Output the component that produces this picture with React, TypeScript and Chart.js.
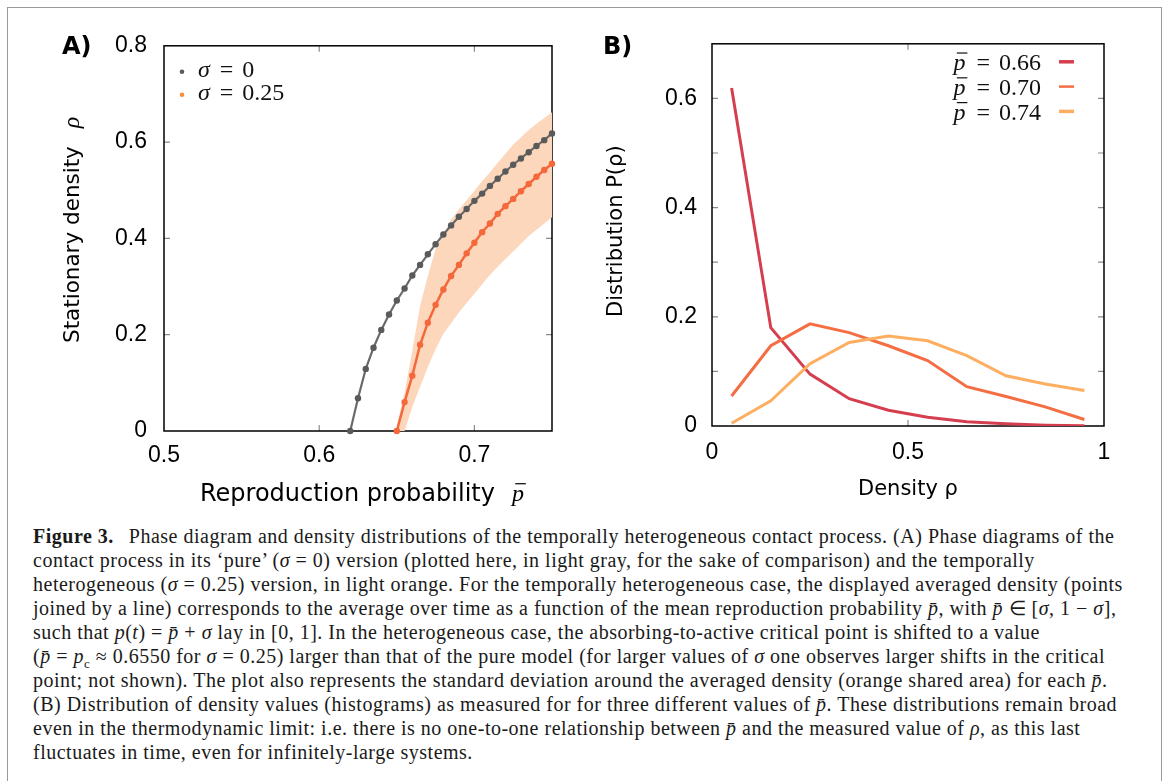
import React, { useEffect, useRef } from "react";
import { Chart, registerables } from "chart.js";

Chart.register(...registerables);

// ---------------- Panel A data ----------------
const pureP = [0.62, 0.625, 0.63, 0.635, 0.64, 0.645, 0.65, 0.655, 0.66, 0.665, 0.67, 0.675, 0.68, 0.685, 0.69, 0.695, 0.7, 0.705, 0.71, 0.715, 0.72, 0.725, 0.73, 0.735, 0.74, 0.745, 0.75];
const pureRho = [0.0, 0.068, 0.129, 0.173, 0.21, 0.242, 0.271, 0.296, 0.323, 0.345, 0.367, 0.388, 0.408, 0.427, 0.445, 0.461, 0.478, 0.493, 0.509, 0.524, 0.539, 0.553, 0.566, 0.579, 0.592, 0.604, 0.618];
const hetP = [0.65, 0.655, 0.66, 0.665, 0.67, 0.675, 0.68, 0.685, 0.69, 0.695, 0.7, 0.705, 0.71, 0.715, 0.72, 0.725, 0.73, 0.735, 0.74, 0.745, 0.75];
const hetRho = [0.0, 0.06, 0.115, 0.179, 0.225, 0.262, 0.294, 0.322, 0.345, 0.369, 0.391, 0.413, 0.431, 0.451, 0.467, 0.482, 0.498, 0.513, 0.528, 0.542, 0.555];
const hetUpper = [0.01, 0.08, 0.167, 0.26, 0.322, 0.378, 0.408, 0.439, 0.46, 0.479, 0.499, 0.519, 0.537, 0.557, 0.576, 0.595, 0.61, 0.625, 0.638, 0.65, 0.662];
const hetLower = [0.0, 0.0, 0.05, 0.092, 0.133, 0.17, 0.202, 0.224, 0.246, 0.266, 0.285, 0.305, 0.324, 0.341, 0.357, 0.373, 0.389, 0.405, 0.418, 0.431, 0.444];
const aXTicks = [0.5, 0.6, 0.7];
const aXLabels = ["0.5", "0.6", "0.7"];
const aYTicks = [0, 0.2, 0.4, 0.6, 0.8];
const aYLabels = ["0", "0.2", "0.4", "0.6", "0.8"];
const aLegend = ["0", "0.25"];

// ---------------- Panel B data ----------------
const densityBins = [0.05, 0.15, 0.25, 0.35, 0.45, 0.55, 0.65, 0.75, 0.85, 0.95];
const dist066 = [0.619, 0.18, 0.095, 0.05, 0.029, 0.016, 0.008, 0.004, 0.0015, 0.0005];
const dist070 = [0.055, 0.147, 0.187, 0.171, 0.147, 0.12, 0.072, 0.054, 0.035, 0.012];
const dist074 = [0.005, 0.046, 0.114, 0.153, 0.165, 0.156, 0.129, 0.092, 0.077, 0.065];
const bXTicks = [0, 0.5, 1];
const bXLabels = ["0", "0.5", "1"];
const bYTicks = [0, 0.1, 0.2, 0.3, 0.4, 0.5, 0.6];
const bYLabels = ["0", "", "0.2", "", "0.4", "", "0.6"];
const bLegend = ["0.66", "0.70", "0.74"];

const GRAY = "#5a5a5a";
const ORANGE_A = "#f4683b";
const BAND = "rgb(253,215,188)";
const C066 = "#d53e4f";
const C070 = "#f46d43";
const C074 = "#fdae61";

const TICK_FONT = { family: "Liberation Sans", size: 23 };
const SANS = '"DejaVu Sans"';
const SERIF = '"Liberation Serif"';

type Piece = { t?: string; font?: string; gap?: number; bar?: number };

function piecesWidth(ctx: CanvasRenderingContext2D, ps: Piece[]) {
  let w = 0;
  for (const p of ps) {
    if (p.gap !== undefined) { w += p.gap; continue; }
    ctx.font = p.font!;
    w += ctx.measureText(p.t!).width;
  }
  return w;
}

function drawPieces(ctx: CanvasRenderingContext2D, ps: Piece[], x: number, y: number, color: string) {
  ctx.fillStyle = color;
  ctx.strokeStyle = color;
  ctx.textAlign = "left";
  ctx.textBaseline = "alphabetic";
  let cx = x;
  for (const p of ps) {
    if (p.gap !== undefined) { cx += p.gap; continue; }
    ctx.font = p.font!;
    const w = ctx.measureText(p.t!).width;
    ctx.fillText(p.t!, cx, y);
    if (p.bar) {
      const fs = p.bar;
      ctx.lineWidth = Math.max(1, fs * 0.05);
      ctx.beginPath();
      ctx.moveTo(cx + fs * 0.14, y - fs * 0.72);
      ctx.lineTo(cx + w + fs * 0.08, y - fs * 0.72);
      ctx.stroke();
    }
    cx += w;
  }
  return cx;
}

function innerTicks(chart: any, xt: number[], yt: number[]) {
  const { ctx, chartArea: a } = chart;
  const xs = chart.scales.x, ys = chart.scales.y;
  const L = 6;
  ctx.save();
  ctx.strokeStyle = "#8a8a8a";
  ctx.lineWidth = 1.2;
  ctx.beginPath();
  for (const v of xt) {
    const px = xs.getPixelForValue(v);
    if (px < a.left + 2 || px > a.right - 2) continue;
    ctx.moveTo(px, a.bottom); ctx.lineTo(px, a.bottom - L);
    ctx.moveTo(px, a.top); ctx.lineTo(px, a.top + L);
  }
  for (const v of yt) {
    const py = ys.getPixelForValue(v);
    if (py < a.top + 2 || py > a.bottom - 2) continue;
    ctx.moveTo(a.left, py); ctx.lineTo(a.left + L, py);
    ctx.moveTo(a.right, py); ctx.lineTo(a.right - L, py);
  }
  ctx.stroke();
  ctx.strokeStyle = "#000";
  ctx.lineWidth = 1.5;
  ctx.strokeRect(a.left, a.top, a.right - a.left, a.bottom - a.top);
  ctx.restore();
}

const A_OX = 30, A_OY = 15;
const B_OX = 590, B_OY = 15;

const decorA = {
  id: "decorA",
  beforeDatasetsDraw(chart: any) {
    innerTicks(chart, aXTicks, aYTicks);
  },
  afterDraw(chart: any) {
    const { ctx, chartArea: a } = chart;
    ctx.save();
    const legendColors = [GRAY, "#fb8d3d"];
    aLegend.forEach((val, i) => {
      const dotX = a.left + 18;
      const dotY = a.top + 26 + i * 23;
      ctx.fillStyle = legendColors[i];
      ctx.beginPath();
      ctx.arc(dotX, dotY, 2.3, 0, Math.PI * 2);
      ctx.fill();
      drawPieces(ctx, [
        { t: "σ", font: `italic 24px ${SERIF}` },
        { gap: 10 },
        { t: "=", font: `24px ${SERIF}` },
        { gap: 9 },
        { t: val, font: `24px ${SERIF}` },
      ], a.left + 34, dotY + 5, "#111");
    });
    ctx.translate(-A_OX, -A_OY);
    drawPieces(ctx, [
      { t: "Reproduction probability", font: `24px ${SANS}` },
      { gap: 17 },
      { t: "p", font: `italic 24px ${SERIF}`, bar: 24 },
    ], 200, 501, "#000");
    ctx.save();
    ctx.translate(79, 343);
    ctx.rotate(-Math.PI / 2);
    drawPieces(ctx, [
      { t: "Stationary density", font: `21.5px ${SANS}` },
      { gap: 18 },
      { t: "ρ", font: `italic 24px ${SERIF}` },
    ], 0, 0, "#000");
    ctx.restore();
    ctx.font = `bold 24px ${SANS}`;
    ctx.fillStyle = "#000";
    ctx.textBaseline = "alphabetic";
    ctx.fillText("A)", 62, 54);
    ctx.restore();
  },
};

const decorB = {
  id: "decorB",
  beforeDatasetsDraw(chart: any) {
    innerTicks(chart, bXTicks, bYTicks);
  },
  afterDraw(chart: any) {
    const { ctx, chartArea: a } = chart;
    ctx.save();
    const cols = [C066, C070, C074];
    const widths = [3.5, 2.5, 3.5];
    bLegend.forEach((val, i) => {
      const base = a.top + 26.5 + i * 24.8;
      const ps: Piece[] = [
        { t: "p", font: `italic 24px ${SERIF}`, bar: 24 },
        { gap: 11 },
        { t: "=", font: `24px ${SERIF}` },
        { gap: 9 },
        { t: val, font: `24px ${SERIF}` },
      ];
      const w = piecesWidth(ctx, ps);
      drawPieces(ctx, ps, a.right - 63 - w, base, "#111");
      ctx.strokeStyle = cols[i];
      ctx.lineWidth = widths[i];
      ctx.beginPath();
      ctx.moveTo(a.right - 45, base - 8.5);
      ctx.lineTo(a.right - 30, base - 8.5);
      ctx.stroke();
    });
    ctx.translate(-B_OX, -B_OY);
    drawPieces(ctx, [{ t: "Density ρ", font: `21px ${SANS}` }], 858, 495, "#000");
    ctx.save();
    ctx.translate(622, 317);
    ctx.rotate(-Math.PI / 2);
    drawPieces(ctx, [{ t: "Distribution P(ρ)", font: `21px ${SANS}` }], 0, 0, "#000");
    ctx.restore();
    ctx.font = `bold 24px ${SANS}`;
    ctx.fillStyle = "#000";
    ctx.textBaseline = "alphabetic";
    ctx.fillText("B)", 603, 54);
    ctx.restore();
  },
};

function makeScale(min: number, max: number, ticks: number[], labels: string[], size: number, pad: number, isX: boolean) {
  return {
    type: "linear" as const,
    min,
    max,
    grid: { display: false, drawTicks: false },
    border: { display: false },
    ticks: {
      font: TICK_FONT,
      color: "#000",
      padding: pad,
      autoSkip: false,
      maxRotation: 0,
      callback: (_v: any, i: number) => labels[i],
    },
    afterBuildTicks: (scale: any) => {
      scale.ticks = ticks.map((v) => ({ value: v }));
    },
    afterFit: (scale: any) => {
      if (isX) scale.height = size;
      else scale.width = size;
    },
  };
}

function PanelA() {
  const ref = useRef<HTMLCanvasElement>(null);
  useEffect(() => {
    const chart = new Chart(ref.current!, {
      type: "line",
      data: {
        datasets: [
          {
            label: "upper",
            data: hetP.map((x, i) => ({ x, y: hetUpper[i] })),
            borderWidth: 0,
            pointRadius: 0,
            backgroundColor: BAND,
            borderColor: "rgba(0,0,0,0)",
            fill: "+1",
            order: 3,
          },
          {
            label: "lower",
            data: hetP.map((x, i) => ({ x, y: hetLower[i] })),
            borderWidth: 0,
            pointRadius: 0,
            borderColor: "rgba(0,0,0,0)",
            fill: false,
            order: 3,
          },
          {
            label: "σ = 0.25",
            data: hetP.map((x, i) => ({ x, y: hetRho[i] })),
            borderColor: ORANGE_A,
            borderWidth: 2.5,
            pointRadius: 3.2,
            pointBorderWidth: 0,
            pointBackgroundColor: ORANGE_A,
            fill: false,
            clip: false,
            order: 1,
          },
          {
            label: "σ = 0",
            data: pureP.map((x, i) => ({ x, y: pureRho[i] })),
            borderColor: "#6a6a6a",
            borderWidth: 2.2,
            pointRadius: 3.2,
            pointBorderWidth: 0,
            pointBackgroundColor: GRAY,
            fill: false,
            clip: false,
            order: 0,
          },
        ],
      } as any,
      options: {
        animation: false,
        responsive: false,
        devicePixelRatio: 1,
        events: [],
        layout: { padding: { left: 0, top: 30, right: 23, bottom: 0 } },
        plugins: { legend: { display: false }, tooltip: { enabled: false } },
        elements: { line: { tension: 0 } },
        scales: {
          x: makeScale(0.5, 0.75, aXTicks, aXLabels, 89, 11, true),
          y: makeScale(0, 0.8, aYTicks, aYLabels, 134, 17, false),
        },
      } as any,
      plugins: [decorA],
    });
    return () => chart.destroy();
  }, []);
  return (
    <canvas
      ref={ref}
      width={545}
      height={505}
      style={{ position: "absolute", left: A_OX, top: A_OY, width: 545, height: 505 }}
    />
  );
}

function PanelB() {
  const ref = useRef<HTMLCanvasElement>(null);
  useEffect(() => {
    const mk = (label: string, vals: number[], color: string, order: number) => ({
      label,
      data: densityBins.map((x, i) => ({ x, y: vals[i] })),
      borderColor: color,
      borderWidth: 3,
      pointRadius: 0,
      fill: false,
      order,
    });
    const chart = new Chart(ref.current!, {
      type: "line",
      data: {
        datasets: [
          mk("p̄ = 0.66", dist066, C066, 2),
          mk("p̄ = 0.70", dist070, C070, 1),
          mk("p̄ = 0.74", dist074, C074, 0),
        ],
      } as any,
      options: {
        animation: false,
        responsive: false,
        devicePixelRatio: 1,
        events: [],
        layout: { padding: { left: 0, top: 21, right: 31, bottom: 0 } },
        plugins: { legend: { display: false }, tooltip: { enabled: false } },
        elements: { line: { tension: 0 } },
        scales: {
          x: makeScale(0, 1, bXTicks, bXLabels, 94, 13, true),
          y: makeScale(0, 0.7, bYTicks, bYLabels, 122, 15, false),
        },
      } as any,
      plugins: [decorB],
    });
    return () => chart.destroy();
  }, []);
  return (
    <canvas
      ref={ref}
      width={545}
      height={505}
      style={{ position: "absolute", left: B_OX, top: B_OY, width: 545, height: 505 }}
    />
  );
}

const I = (p: { children: React.ReactNode }) => <i>{p.children}</i>;
const PB = () => <i>{"p\u0304"}</i>;

const captionLines: React.ReactNode[] = [
  <>
    <b style={{ marginRight: 15 }}>Figure 3.</b>Phase diagram and density distributions of the temporally heterogeneous contact process. (A) Phase diagrams of the
  </>,
  <>
    contact process in its ‘pure’ (<I>σ</I> = 0) version (plotted here, in light gray, for the sake of comparison) and the temporally
  </>,
  <>
    heterogeneous (<I>σ</I> = 0.25) version, in light orange. For the temporally heterogeneous case, the displayed averaged density (points
  </>,
  <>
    joined by a line) corresponds to the average over time as a function of the mean reproduction probability <PB />, with <PB /> ∈ [<I>σ</I>, 1 − <I>σ</I>],
  </>,
  <>
    such that <I>p</I>(<I>t</I>) = <PB /> + <I>σ</I> lay in [0, 1]. In the heterogeneous case, the absorbing-to-active critical point is shifted to a value
  </>,
  <>
    (<PB /> = <I>p</I>
    <sub style={{ fontSize: "0.65em" }}>c</sub> ≈ 0.6550 for <I>σ</I> = 0.25) larger than that of the pure model (for larger values of <I>σ</I> one observes larger shifts in the critical
  </>,
  <>
    point; not shown). The plot also represents the standard deviation around the averaged density (orange shared area) for each <PB />.
  </>,
  <>
    (B) Distribution of density values (histograms) as measured for for three different values of <PB />. These distributions remain broad
  </>,
  <>
    even in the thermodynamic limit: i.e. there is no one-to-one relationship between <PB /> and the measured value of <I>ρ</I>, as this last
  </>,
  <>fluctuates in time, even for infinitely-large systems.</>,
];

export default function App() {
  return (
    <div style={{ position: "fixed", left: 0, top: 0, width: 1165, height: 781, overflow: "hidden", background: "#fff" }}>
      <div
        style={{
          position: "absolute",
          left: 7,
          top: 7,
          width: 1155,
          height: 800,
          boxSizing: "border-box",
          border: "1px solid #9a9a9a",
        }}
      />
      <PanelA />
      <PanelB />
      {captionLines.map((line, i) => (
        <div
          key={i}
          style={{
            position: "absolute",
            left: 33,
            top: 524 + i * 24,
            whiteSpace: "nowrap",
            fontFamily: "'Liberation Serif', serif",
            fontSize: 20,
            letterSpacing: "0.5px",
            lineHeight: "24px",
            color: "#1a1a1a",
          }}
        >
          {line}
        </div>
      ))}
    </div>
  );
}
